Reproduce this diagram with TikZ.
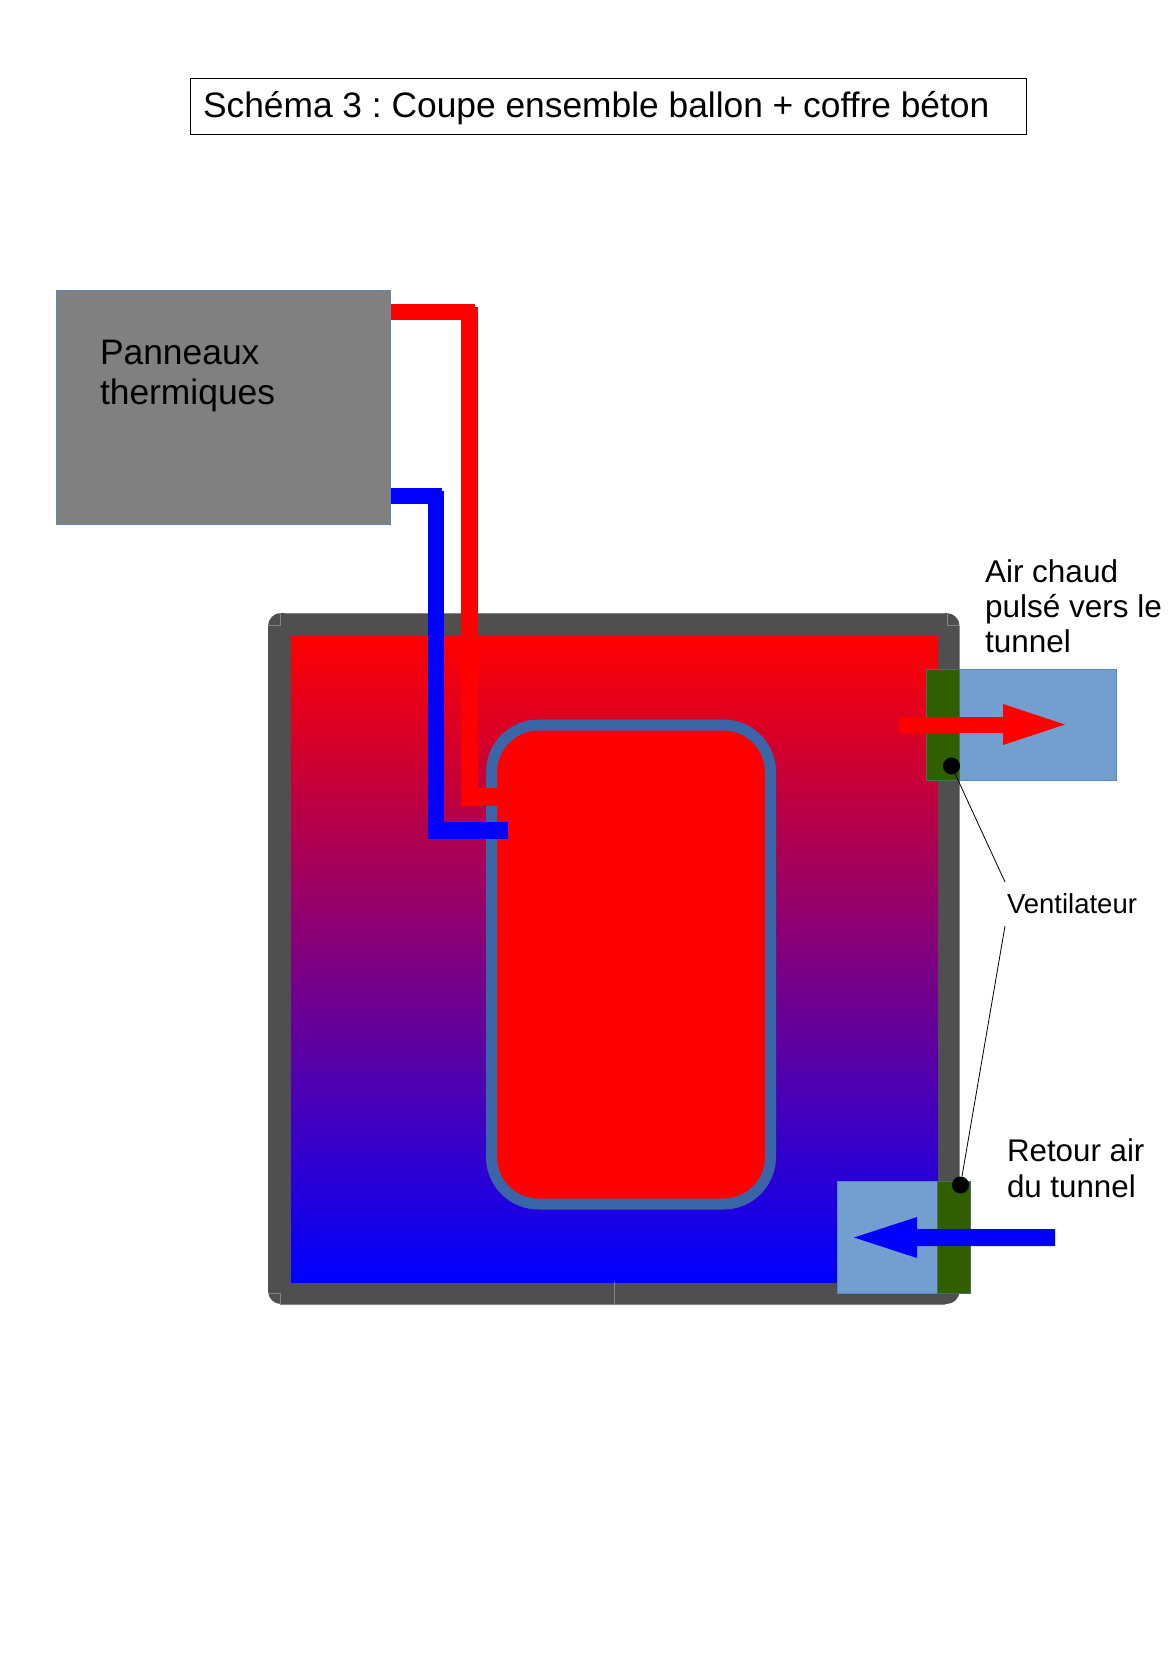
\documentclass[tikz,border=0pt]{standalone}
\usepackage{fontspec}
\setmainfont{Liberation Sans}
\definecolor{wall}{HTML}{4F4F4F}
\definecolor{tankline}{HTML}{3A66A7}
\definecolor{duct}{HTML}{729FCF}
\definecolor{ductline}{HTML}{5A87BC}
\definecolor{fan}{HTML}{315F00}
\definecolor{panel}{HTML}{808080}
\tikzset{
  box/.style={inner sep=0pt,outer sep=0pt,anchor=north west},
  lbl/.style={inner sep=0pt,outer sep=0pt,anchor=north west,align=left,text=black},
  ductbox/.style={box,fill=duct,draw=ductline,line width=0.5pt},
  fanbox/.style={box,fill=fan,draw=ductline!50!fan,line width=0.5pt},
  dot/.style={circle,fill=black,inner sep=0pt,minimum size=17pt},
  leader/.style={draw=black,line width=0.8pt},
  seam/.style={draw=white!30!wall,line width=0.5pt},
}
\begin{document}
\frenchspacing
\begin{tikzpicture}[x=1pt,y=-1pt]
\path[use as bounding box,fill=white] (0,0) rectangle (1171,1656);
% title
\node[box,draw=black,fill=white,line width=0.8pt,minimum width=836pt,minimum height=56pt] (title) at (190,78) {};
\node[lbl,font=\fontsize{35.35}{40}\selectfont\frenchspacing] (titletext) at (203,91.5) {Schéma 3 : Coupe ensemble ballon + coffre béton};
% panel
\node[box,fill=panel,draw=ductline,line width=0.6pt,minimum width=334.5pt,minimum height=234pt] (panneaux) at (56,290) {};
\node[lbl,font=\fontsize{35.4}{40}\selectfont] (paneltext) at (100,340) {Panneaux\\thermiques};
% concrete chest
\fill[wall,rounded corners=13pt] (268,613) rectangle (959.5,1304);
\shade[top color=red,bottom color=blue] (291,636) rectangle (937.5,1282);
\draw[seam] (268,625) -- (280,625) -- (280,613);
\draw[seam] (947,613) -- (947,625) -- (959,625);
\draw[seam] (268,1293) -- (280,1293) -- (280,1304);
\draw[seam] (614,1282) -- (614,1304);
\draw[seam] (285,613) -- (945,613);
\draw[seam] (280,1304) -- (945,1304);
% tank
\node[box,fill=red,draw=tankline,line width=11pt,rounded corners=47pt,minimum width=279pt,minimum height=479pt] (tank) at (491.5,725) {};
% pipes
\coordinate (redA) at (391,304);
\coordinate (redB) at (475,320);
\coordinate (redC) at (461,307);
\coordinate (redD) at (478,806);
\coordinate (redE) at (497,788);
\coordinate (blueA) at (391,488);
\coordinate (blueB) at (442,504);
\coordinate (blueC) at (428,491);
\coordinate (blueD) at (444,839);
\coordinate (blueE) at (508,822);
\fill[red] (redA) rectangle (redB);
\fill[red] (redC) rectangle (redD);
\fill[red] (redC |- redD) rectangle (redE);
\fill[blue] (blueA) rectangle (blueB);
\fill[blue] (blueC) rectangle (blueD);
\fill[blue] (blueC |- blueD) rectangle (blueE);
% upper duct
\node[ductbox,minimum width=190pt,minimum height=111pt] (ductTop) at (926,669) {};
\node[fanbox,minimum width=33pt,minimum height=111pt] (fanTop) at (926,669) {};
\fill[red] (899,717) -- (1003,717) -- (1003,704) -- (1065,724.5) -- (1003,745) -- (1003,733) -- (899,733) -- cycle;
% lower duct
\node[ductbox,minimum width=100pt,minimum height=112pt] (ductBot) at (837,1181) {};
\node[fanbox,minimum width=33pt,minimum height=112pt] (fanBot) at (937,1181) {};
\fill[blue] (1055,1229) -- (917,1229) -- (917,1217) -- (854,1237.5) -- (917,1258) -- (917,1246) -- (1055,1246) -- cycle;
% fans labels
\node[dot] (dotTop) at (951.5,766) {};
\node[dot] (dotBot) at (960.5,1185) {};
\coordinate (leadTop) at (1005,882);
\coordinate (leadBot) at (1005,926);
\draw[leader] (dotTop) -- (leadTop);
\draw[leader] (dotBot) -- (leadBot);
% labels
\node[lbl,font=\fontsize{31.5}{35}\selectfont] (airchaud) at (985,560) {Air chaud\\pulsé vers le\\tunnel};
\node[lbl,font=\fontsize{27.5}{32}\selectfont] (ventil) at (1007,893.5) {Ventilateur};
\node[lbl,font=\fontsize{31.3}{36}\selectfont] (retour) at (1007,1138.5) {Retour air\\du tunnel};
\end{tikzpicture}
\end{document}
